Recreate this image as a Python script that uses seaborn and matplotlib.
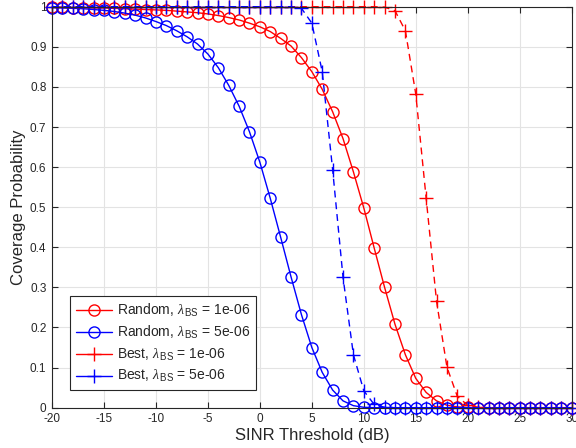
import numpy as np
import pandas as pd
import matplotlib
matplotlib.use("Agg")
import matplotlib.pyplot as plt
import seaborn as sns

# -------------------------------
# DATA
# -------------------------------
sinr_db = list(range(-20, 31))

random_1e6 = [0.999, 0.999, 0.998, 0.998, 0.997, 0.997, 0.996, 0.995, 0.994, 0.993,
              0.992, 0.991, 0.989, 0.987, 0.985, 0.982, 0.978, 0.973, 0.967, 0.959,
              0.950, 0.938, 0.921, 0.902, 0.873, 0.838, 0.794, 0.738, 0.671, 0.588,
              0.498, 0.398, 0.300, 0.208, 0.132, 0.073, 0.038, 0.017, 0.006, 0.002,
              0.0005, 0, 0, 0, 0, 0, 0, 0, 0, 0,
              0]

random_5e6 = [0.998, 0.997, 0.996, 0.995, 0.993, 0.991, 0.988, 0.984, 0.979, 0.972,
              0.963, 0.953, 0.940, 0.925, 0.907, 0.882, 0.848, 0.804, 0.752, 0.688,
              0.612, 0.522, 0.425, 0.326, 0.232, 0.150, 0.088, 0.044, 0.017, 0.005,
              0.001, 0, 0, 0, 0, 0, 0, 0, 0, 0,
              0, 0, 0, 0, 0, 0, 0, 0, 0, 0,
              0]

best_1e6 = [1, 1, 1, 1, 1, 1, 1, 1, 1, 1,
            1, 1, 1, 1, 1, 1, 1, 1, 1, 1,
            1, 1, 1, 1, 1, 1, 1, 1, 1, 1,
            1, 1, 0.999, 0.990, 0.940, 0.782, 0.522, 0.265, 0.101, 0.028,
            0.006, 0.001, 0, 0, 0, 0, 0, 0, 0, 0,
            0]

best_5e6 = [1, 1, 1, 1, 1, 1, 1, 1, 1, 1,
            1, 1, 1, 1, 1, 1, 1, 1, 1, 1,
            1, 1, 1, 1, 0.996, 0.959, 0.838, 0.594, 0.325, 0.132,
            0.042, 0.008, 0.001, 0, 0, 0, 0, 0, 0, 0,
            0, 0, 0, 0, 0, 0, 0, 0, 0, 0,
            0]

labels = [r"Random, $\lambda_{\,\mathrm{BS}}$ = 1e-06",
          r"Random, $\lambda_{\,\mathrm{BS}}$ = 5e-06",
          r"Best, $\lambda_{\,\mathrm{BS}}$ = 1e-06",
          r"Best, $\lambda_{\,\mathrm{BS}}$ = 5e-06"]

# -------------------------------
# STYLE
# -------------------------------
sns.set_style("whitegrid")
plt.rcParams["font.family"] = ["Liberation Sans", "DejaVu Sans"]
plt.rcParams["mathtext.fontset"] = "custom"
plt.rcParams["mathtext.rm"] = "Liberation Sans"
plt.rcParams["mathtext.it"] = "Liberation Serif:italic"
plt.rcParams["axes.unicode_minus"] = False

fig = plt.figure(figsize=(5.76, 4.48), dpi=100)
ax = fig.add_axes([0.0903, 0.090, 0.9022, 0.895])

series = [
    (random_1e6, "#FF0000", "o", "-", 8),
    (random_5e6, "#0000FF", "o", "-", 8),
    (best_1e6, "#FF0000", "+", (0, (5, 3.5)), 10),
    (best_5e6, "#0000FF", "+", (0, (5, 3.5)), 10),
]

for (vals, col, mk, ls, ms), lab in zip(series, labels):
    df = pd.DataFrame({"x": sinr_db, "y": vals})
    sns.lineplot(
        data=df, x="x", y="y", ax=ax,
        color=col, marker=mk, linestyle=ls, linewidth=1.0,
        markersize=ms, mfc="none", mec=col, mew=1.0,
        label=lab, clip_on=False,
    )

ax.set_xlim(-20, 30)
ax.set_ylim(0, 1)
ax.set_xticks(np.arange(-20, 31, 5))
ax.set_yticks(np.arange(0, 1.01, 0.1))
ax.yaxis.set_major_formatter(matplotlib.ticker.FormatStrFormatter("%g"))

ax.grid(True, color="#E3E3E3", linewidth=0.8)
for s in ax.spines.values():
    s.set_visible(True)
    s.set_color("#262626")
    s.set_linewidth(0.8)
ax.tick_params(direction="in", length=4, width=0.8, color="#262626",
               labelsize=8.5, labelcolor="#262626", top=True, right=True,
               bottom=True, left=True, pad=4)

ax.set_xlabel("SINR Threshold (dB)", fontsize=12, color="#262626", labelpad=2)
ax.set_ylabel("Coverage Probability", fontsize=12, color="#262626", labelpad=3)

leg = ax.legend(loc="lower left", bbox_to_anchor=(0.035, 0.044), borderaxespad=0,
                fontsize=10, handlelength=2.6, handletextpad=0.35,
                labelspacing=0.4, fancybox=False, framealpha=1,
                edgecolor="#262626", borderpad=0.4)
leg.get_frame().set_linewidth(0.8)
# legend samples look solid in the reference
for h in leg.get_lines():
    h.set_linestyle("-")

fig.savefig("out.png", dpi=100)
